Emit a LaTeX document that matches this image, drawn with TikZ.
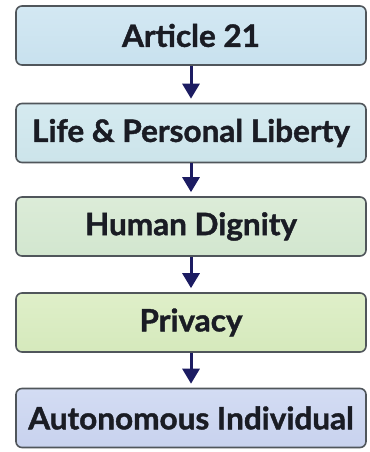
\documentclass[tikz,border=0pt]{standalone}
\usepackage{fontspec}
\setmainfont{Lato}[BoldFeatures={FakeBold=1.3}]
\usetikzlibrary{arrows.meta}
\definecolor{bordc}{HTML}{50565B}
\definecolor{arrc}{HTML}{1C1C62}
\definecolor{txtc}{HTML}{1A1C24}
\definecolor{cA}{HTML}{D3E8F3}
\definecolor{cAb}{HTML}{C8E1EE}
\definecolor{cB}{HTML}{D5EAF0}
\definecolor{cBb}{HTML}{CCE4EA}
\definecolor{cC}{HTML}{DCECD8}
\definecolor{cCb}{HTML}{D2E6CF}
\definecolor{cD}{HTML}{DFEFC9}
\definecolor{cDb}{HTML}{D5E9BC}
\definecolor{cE}{HTML}{D3DCF3}
\definecolor{cEb}{HTML}{C8D2EE}
\newcommand{\boxtxt}[1]{\scalebox{1.02}[1]{\bfseries #1}}
\tikzset{
  flowbox/.style={draw=bordc, line width=1.6bp, rounded corners=6bp,
    minimum width=350bp, minimum height=59bp, inner sep=0pt,
    text=txtc, font=\fontsize{31}{36}\selectfont},
  flowarr/.style={draw=arrc, line width=3bp,
    -{Triangle[width=17bp,length=15bp]}, shorten >=4bp}
}
\begin{document}
\begin{tikzpicture}[x=1bp,y=-1bp]
\useasboundingbox (0,0) rectangle (369,452);
\fill[white] (0,0) rectangle (369,452);
\node[flowbox, top color=cA, bottom color=cAb] (a) at (191,35.5) {\boxtxt{Article 21}};
\node[flowbox, top color=cB, bottom color=cBb] (b) at (191,133) {\boxtxt{Life \& Personal Liberty}};
\node[flowbox, top color=cC, bottom color=cCb] (c) at (191,226.5) {\boxtxt{Human Dignity}};
\node[flowbox, top color=cD, bottom color=cDb] (d) at (191,322.5) {\boxtxt{Privacy}};
\node[flowbox, top color=cE, bottom color=cEb] (e) at (191,418) {\boxtxt{Autonomous Individual}};
\draw[flowarr] (a.south) -- (b.north);
\draw[flowarr] (b.south) -- (c.north);
\draw[flowarr] (c.south) -- (d.north);
\draw[flowarr] (d.south) -- (e.north);
\end{tikzpicture}
\end{document}
